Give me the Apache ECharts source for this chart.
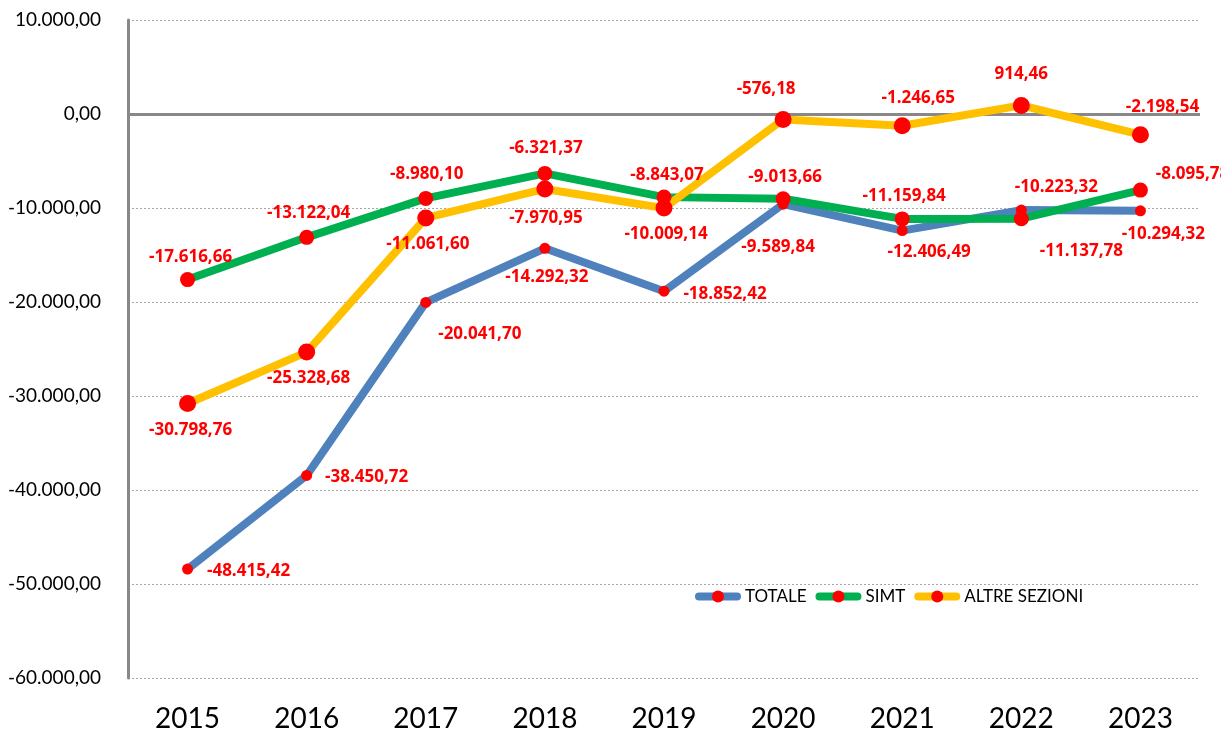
<!DOCTYPE html>
<html>
<head>
<meta charset="utf-8">
<script src="https://cdn.jsdelivr.net/npm/echarts@6/dist/echarts.min.js"></script>
<style>
  html, body { margin: 0; padding: 0; background: #fff; }
  #chart { width: 1221px; height: 735px; }
</style>
</head>
<body>
<div id="chart"></div>
<script>
// dati
var anni = ['2015', '2016', '2017', '2018', '2019', '2020', '2021', '2022', '2023']
var totale = [-48415.42, -38450.72, -20041.70, -14292.32, -18852.42, -9589.84, -12406.49, -10223.32, -10294.32]
var simt = [-17616.66, -13122.04, -8980.10, -6321.37, -8843.07, -9013.66, -11159.84, -11137.78, -8095.78]
var altreSezioni = [-30798.76, -25328.68, -11061.60, -7970.95, -10009.14, -576.18, -1246.65, 914.46, -2198.54]

// spostamento delle etichette rispetto al punto (px)
var offTotale = [[61, 2], [60, 2], [54, 32], [2, 29], [61, 3], [-5, 43], [27, 22], [35, -23], [23, 23]]
var offSimt = [[3, -22], [2, -24], [1, -24], [1, -25], [3, -22], [2, -22], [2, -23], [60, 32], [52, -16]]
var offAltre = [[3, 27], [2, 26], [2, 26], [1, 29], [2, 26], [-17, -30], [16, -28], [0, -31], [22, -28]]

var FONT = 'Lato, "Open Sans", sans-serif'
var FONT_BOLD = '"Open Sans", Lato, sans-serif'

// formato italiano: 10.000,00
function fmt (v) {
  var neg = v < 0
  var s = Math.abs(v).toFixed(2).split('.')
  var int = s[0].replace(/\B(?=(\d{3})+(?!\d))/g, '.')
  return (neg ? '-' : '') + int + ',' + s[1]
}

function punti (values, offsets) {
  return values.map(function (v, i) {
    return {
      value: v,
      label: { offset: offsets[i] }
    }
  })
}

function serie (name, values, offsets, color, symbolSize) {
  return {
    name: name,
    type: 'line',
    data: punti(values, offsets),
    symbol: 'circle',
    symbolSize: symbolSize,
    lineStyle: { color: color, width: 8, cap: 'round' },
    itemStyle: { color: '#ff0000', borderWidth: 0 },
    label: {
      show: true,
      position: 'inside',
      formatter: function (p) { return fmt(p.value) },
      color: '#ff0000',
      fontFamily: FONT_BOLD,
      fontWeight: 'bold',
      fontSize: 17
    },
    emphasis: { disabled: true },
    z: 2
  }
}

var myChart = echarts.init(document.getElementById('chart'))
var s1 = serie('TOTALE', totale, offTotale, '#4f81bd', 11)
var s2 = serie('SIMT', simt, offSimt, '#00b050', 15)
var s3 = serie('ALTRE SEZIONI', altreSezioni, offAltre, '#ffc000', 17)
// linea dello zero
s1.markLine = {
  silent: true,
  symbol: 'none',
  label: { show: false },
  lineStyle: { color: '#888888', width: 3, type: 'solid' },
  data: [{ yAxis: 0 }],
  z: 1
}

var option = {
  animation: false,
  backgroundColor: '#ffffff',
  legend: {
    left: 695,
    top: 588,
    padding: 0,
    itemWidth: 38,
    itemHeight: 15,
    itemGap: 9,
    lineStyle: { width: 8, cap: 'round' },
    textStyle: { fontFamily: FONT, fontSize: 17, color: '#000', padding: [0, 0, 0, 3] },
    data: ['TOTALE', 'SIMT', 'ALTRE SEZIONI']
  },
  grid: {
    left: 128,
    right: 21,
    top: 20,
    bottom: 57,
    containLabel: false
  },
  xAxis: {
    type: 'category',
    data: anni,
    boundaryGap: true,
    axisLine: { show: false },
    axisTick: { show: false },
    axisLabel: {
      color: '#000',
      fontFamily: FONT,
      fontSize: 28,
      margin: 27
    },
    splitLine: { show: false }
  },
  yAxis: {
    type: 'value',
    min: -60000,
    max: 10000,
    interval: 10000,
    axisLine: { show: true, onZero: false, lineStyle: { color: '#888888', width: 3 } },
    axisTick: { show: false },
    axisLabel: {
      color: '#000',
      fontFamily: FONT,
      fontSize: 19,
      margin: 27,
      formatter: function (v) { return fmt(v) }
    },
    splitLine: { show: true, lineStyle: { color: '#a6a6a6', width: 1, type: [2, 2] } }
  },
  series: [s1, s2, s3]
}
myChart.setOption(option)
</script>
</body>
</html>
